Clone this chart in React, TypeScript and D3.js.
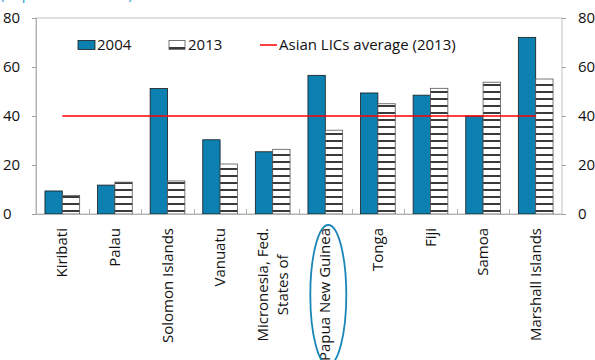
import React, { useEffect, useRef } from "react";
import * as d3 from "d3";

const categories = [
  "Kiribati",
  "Palau",
  "Solomon Islands",
  "Vanuatu",
  "Micronesia, Fed.|States of",
  "Papua New Guinea",
  "Tonga",
  "Fiji",
  "Samoa",
  "Marshall Islands",
];
const values2004 = [9.4, 11.8, 51.2, 30.3, 25.4, 56.6, 49.4, 48.5, 40.0, 72.1];
const values2013 = [7.6, 13.0, 13.5, 20.4, 26.4, 34.2, 45.0, 51.3, 53.8, 55.1];
const asianLICsAverage = 40;
const yTicks = [0, 20, 40, 60, 80];
const seriesNames = ["2004", "2013", "Asian LICs average (2013)"];
const highlighted = "Papua New Guinea";
const subtitle = "(In percent of GDP)";

const W = 595;
const H = 360;
const FONT = "'Open Sans', sans-serif";
const BLUE = "#0b80b1";

export default function App() {
  const ref = useRef<SVGSVGElement | null>(null);

  useEffect(() => {
    const svg = d3.select(ref.current);
    svg.selectAll("*").remove();

    const left = 36, right = 562, top = 18, bottom = 214;
    const x = d3.scaleBand<string>().domain(categories).range([left, right]).paddingInner(0.34).paddingOuter(0.17);
    const y = d3.scaleLinear().domain([0, 80]).range([bottom, top]);
    const bw = x.bandwidth() / 2;
    const step = x.step();

    const defs = svg.append("defs");
    const pat = defs.append("pattern").attr("id", "hatch").attr("patternUnits", "userSpaceOnUse")
      .attr("width", 8).attr("height", 7);
    pat.append("rect").attr("width", 8).attr("height", 7).attr("fill", "#fff");
    pat.append("rect").attr("y", 0).attr("width", 8).attr("height", 2).attr("fill", "#3a3a3a");

    // subtitle (cut off at top)
    svg.append("text").attr("x", 0).attr("y", -1).attr("fill", "#3399dd")
      .style("font-family", FONT).style("font-size", "15px").text(subtitle);

    // frame
    svg.append("rect").attr("x", left).attr("y", top).attr("width", right - left).attr("height", bottom - top)
      .attr("fill", "none").attr("stroke", "#c0c0c0").attr("stroke-width", 1);

    // y ticks
    yTicks.forEach((t) => {
      const yy = Math.round(y(t)) + 0.5;
      svg.append("line").attr("x1", left - 4).attr("x2", left).attr("y1", yy).attr("y2", yy).attr("stroke", "#a0a0a0");
      svg.append("line").attr("x1", right).attr("x2", right + 4).attr("y1", yy).attr("y2", yy).attr("stroke", "#a0a0a0");
      svg.append("text").attr("x", 3).attr("y", y(t)).attr("dy", "0.35em").attr("fill", "#111")
        .style("font-family", FONT).style("font-size", "15px").text(String(t));
      svg.append("text").attr("x", 578).attr("y", y(t)).attr("dy", "0.35em").attr("fill", "#111")
        .style("font-family", FONT).style("font-size", "15px").text(String(t));
    });

    // category boundary ticks
    for (let i = 1; i < categories.length; i++) {
      const xx = Math.round(left + i * step) + 0.5;
      svg.append("line").attr("x1", xx).attr("x2", xx).attr("y1", bottom - 5).attr("y2", bottom).attr("stroke", "#b0b0b0");
    }

    // bars 2004
    svg.append("g").selectAll("rect").data(categories).join("rect")
      .attr("x", (d) => x(d)!)
      .attr("y", (d, i) => y(values2004[i]))
      .attr("width", bw)
      .attr("height", (d, i) => bottom - y(values2004[i]))
      .attr("fill", BLUE).attr("stroke", "#1a1a1a").attr("stroke-width", 0.8);

    // bars 2013
    svg.append("g").selectAll("rect").data(categories).join("rect")
      .attr("x", (d) => x(d)! + bw)
      .attr("y", (d, i) => y(values2013[i]))
      .attr("width", bw)
      .attr("height", (d, i) => bottom - y(values2013[i]))
      .attr("fill", "url(#hatch)").attr("stroke", "#555").attr("stroke-width", 0.8);

    // axis line
    svg.append("line").attr("x1", left).attr("x2", right).attr("y1", bottom + 0.5).attr("y2", bottom + 0.5).attr("stroke", "#b0b0b0");
    svg.append("line").attr("x1", left + 0.5).attr("x2", left + 0.5).attr("y1", top).attr("y2", bottom).attr("stroke", "#b0b0b0");

    // average line
    svg.append("line")
      .attr("x1", x(categories[0])! + x.bandwidth() / 2)
      .attr("x2", x(categories[categories.length - 1])! + x.bandwidth() / 2)
      .attr("y1", y(asianLICsAverage)).attr("y2", y(asianLICsAverage))
      .attr("stroke", "#ff0000").attr("stroke-width", 1.5);

    // category labels
    const labelTop = 228;
    categories.forEach((c) => {
      const cx = x(c)! + x.bandwidth() / 2;
      const lines = c.split("|");
      const g = svg.append("g");
      const texts = lines.map((ln) =>
        g.append("text").style("font-family", FONT).style("font-size", "15px").attr("fill", "#111").text(ln)
      );
      const widths = texts.map((t) => (t.node() as SVGTextElement).getComputedTextLength());
      const maxW = Math.max(...widths);
      const lineH = 20;
      const n = lines.length;
      texts.forEach((t, i) => {
        const px = cx + (i - (n - 1) / 2) * lineH + 5;
        const py = labelTop + maxW / 2;
        t.attr("text-anchor", "middle").attr("transform", `translate(${px},${py}) rotate(-90)`);
      });
    });

    // highlight ellipse
    const hx = x(highlighted)! + x.bandwidth() / 2 + 3;
    svg.append("ellipse").attr("cx", hx).attr("cy", 295).attr("rx", 18).attr("ry", 70)
      .attr("fill", "none").attr("stroke", "#1a86b8").attr("stroke-width", 1.8);

    // legend
    const ly = 45;
    svg.append("rect").attr("x", 78).attr("y", ly - 4.5).attr("width", 17).attr("height", 9)
      .attr("fill", BLUE).attr("stroke", "#1a1a1a").attr("stroke-width", 0.8);
    svg.append("text").attr("x", 97).attr("y", ly).attr("dy", "0.35em").style("font-family", FONT).style("font-size", "15px").attr("fill", "#111").text(seriesNames[0]);
    svg.append("rect").attr("x", 169).attr("y", ly - 4.5).attr("width", 16).attr("height", 9)
      .attr("fill", "#fff").attr("stroke", "#555").attr("stroke-width", 0.8);
    svg.append("rect").attr("x", 169).attr("y", ly + 2).attr("width", 16).attr("height", 2).attr("fill", "#3a3a3a");
    svg.append("text").attr("x", 188).attr("y", ly).attr("dy", "0.35em").style("font-family", FONT).style("font-size", "15px").attr("fill", "#111").text(seriesNames[1]);
    svg.append("line").attr("x1", 260).attr("x2", 277).attr("y1", ly).attr("y2", ly).attr("stroke", "#ff0000").attr("stroke-width", 1.5);
    svg.append("text").attr("x", 279).attr("y", ly).attr("dy", "0.35em").style("font-family", FONT).style("font-size", "15px").attr("fill", "#111").text(seriesNames[2]);
  }, []);

  return (
    <svg ref={ref} width={W} height={H} style={{ position: "absolute", left: 0, top: 0, background: "#fff" }} />
  );
}
